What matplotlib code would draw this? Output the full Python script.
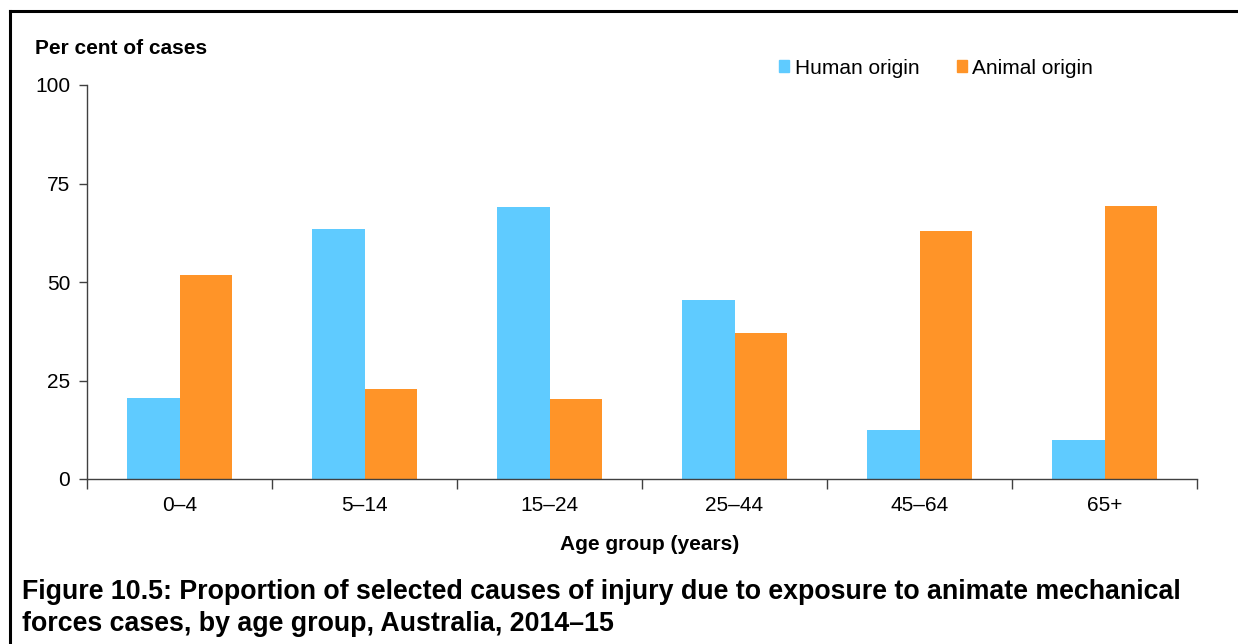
import matplotlib.pyplot as plt
import numpy as np
from matplotlib.lines import Line2D
from matplotlib.patches import Patch

plt.rcParams['font.family'] = ['Liberation Sans', 'DejaVu Sans']

age_groups = ['0–4', '5–14', '15–24', '25–44', '45–64', '65+']
human_origin = [20.6, 63.5, 69.0, 45.4, 12.4, 9.9]
animal_origin = [51.8, 22.8, 20.3, 37.1, 62.9, 69.3]
y_ticks = [0, 25, 50, 75, 100]

HUMAN_COLOR = '#5FCBFF'
ANIMAL_COLOR = '#FF9428'
AXIS_COLOR = '#404040'
FS = 15

fig = plt.figure(figsize=(12.38, 6.44), dpi=100)
ax = fig.add_axes([87 / 1238, 1 - 479 / 644, (1197 - 87) / 1238, (479 - 85) / 644])

x = np.arange(len(age_groups))
width = 0.286
ax.bar(x - width / 2, human_origin, width, color=HUMAN_COLOR, label='Human origin')
ax.bar(x + width / 2, animal_origin, width, color=ANIMAL_COLOR, label='Animal origin')

ax.set_xlim(-0.5, len(age_groups) - 0.5)
ax.set_ylim(0, 100)
ax.set_yticks(y_ticks)
ax.set_yticklabels([str(t) for t in y_ticks], fontsize=FS)
ax.tick_params(axis='y', length=6, width=1, color=AXIS_COLOR, pad=6)

# category labels centred, tick marks at group boundaries
ax.set_xticks(np.arange(len(age_groups) + 1) - 0.5)
ax.set_xticklabels([])
ax.tick_params(axis='x', length=7, width=1, color=AXIS_COLOR)
for i, lab in enumerate(age_groups):
    ax.text(i, -6.6, lab, ha='center', va='center', fontsize=FS)

for s in ['top', 'right']:
    ax.spines[s].set_visible(False)
for s in ['left', 'bottom']:
    ax.spines[s].set_color(AXIS_COLOR)
    ax.spines[s].set_linewidth(1)

fig.text(35 / 1238, 1 - 48 / 644, 'Per cent of cases', fontsize=FS, fontweight='bold',
         ha='left', va='center')
fig.text(650 / 1238, 1 - 545 / 644, 'Age group (years)', fontsize=FS, fontweight='bold',
         ha='center', va='center')

handles = [Patch(color=HUMAN_COLOR), Patch(color=ANIMAL_COLOR)]
fig.legend(handles, ['Human origin', 'Animal origin'], loc='center left',
           bbox_to_anchor=(779 / 1238, 1 - 68 / 644), ncol=2, frameon=False,
           fontsize=FS, handlelength=0.5, handleheight=0.5, handletextpad=0.25,
           columnspacing=1.8, borderpad=0, borderaxespad=0)

fig.text(22 / 1238, 1 - 608 / 644,
         'Figure 10.5: Proportion of selected causes of injury due to exposure to animate mechanical\n'
         'forces cases, by age group, Australia, 2014–15',
         fontsize=19.3, fontweight='bold', ha='left', va='center', linespacing=1.32)

# outer frame (top and left only)
fig.add_artist(Line2D([10 / 1238, 1], [1 - 11 / 644, 1 - 11 / 644], color='black', lw=2.2,
                      transform=fig.transFigure))
fig.add_artist(Line2D([10 / 1238, 10 / 1238], [0, 1 - 11 / 644], color='black', lw=2.2,
                      transform=fig.transFigure))

fig.savefig('out.png', dpi=100)
